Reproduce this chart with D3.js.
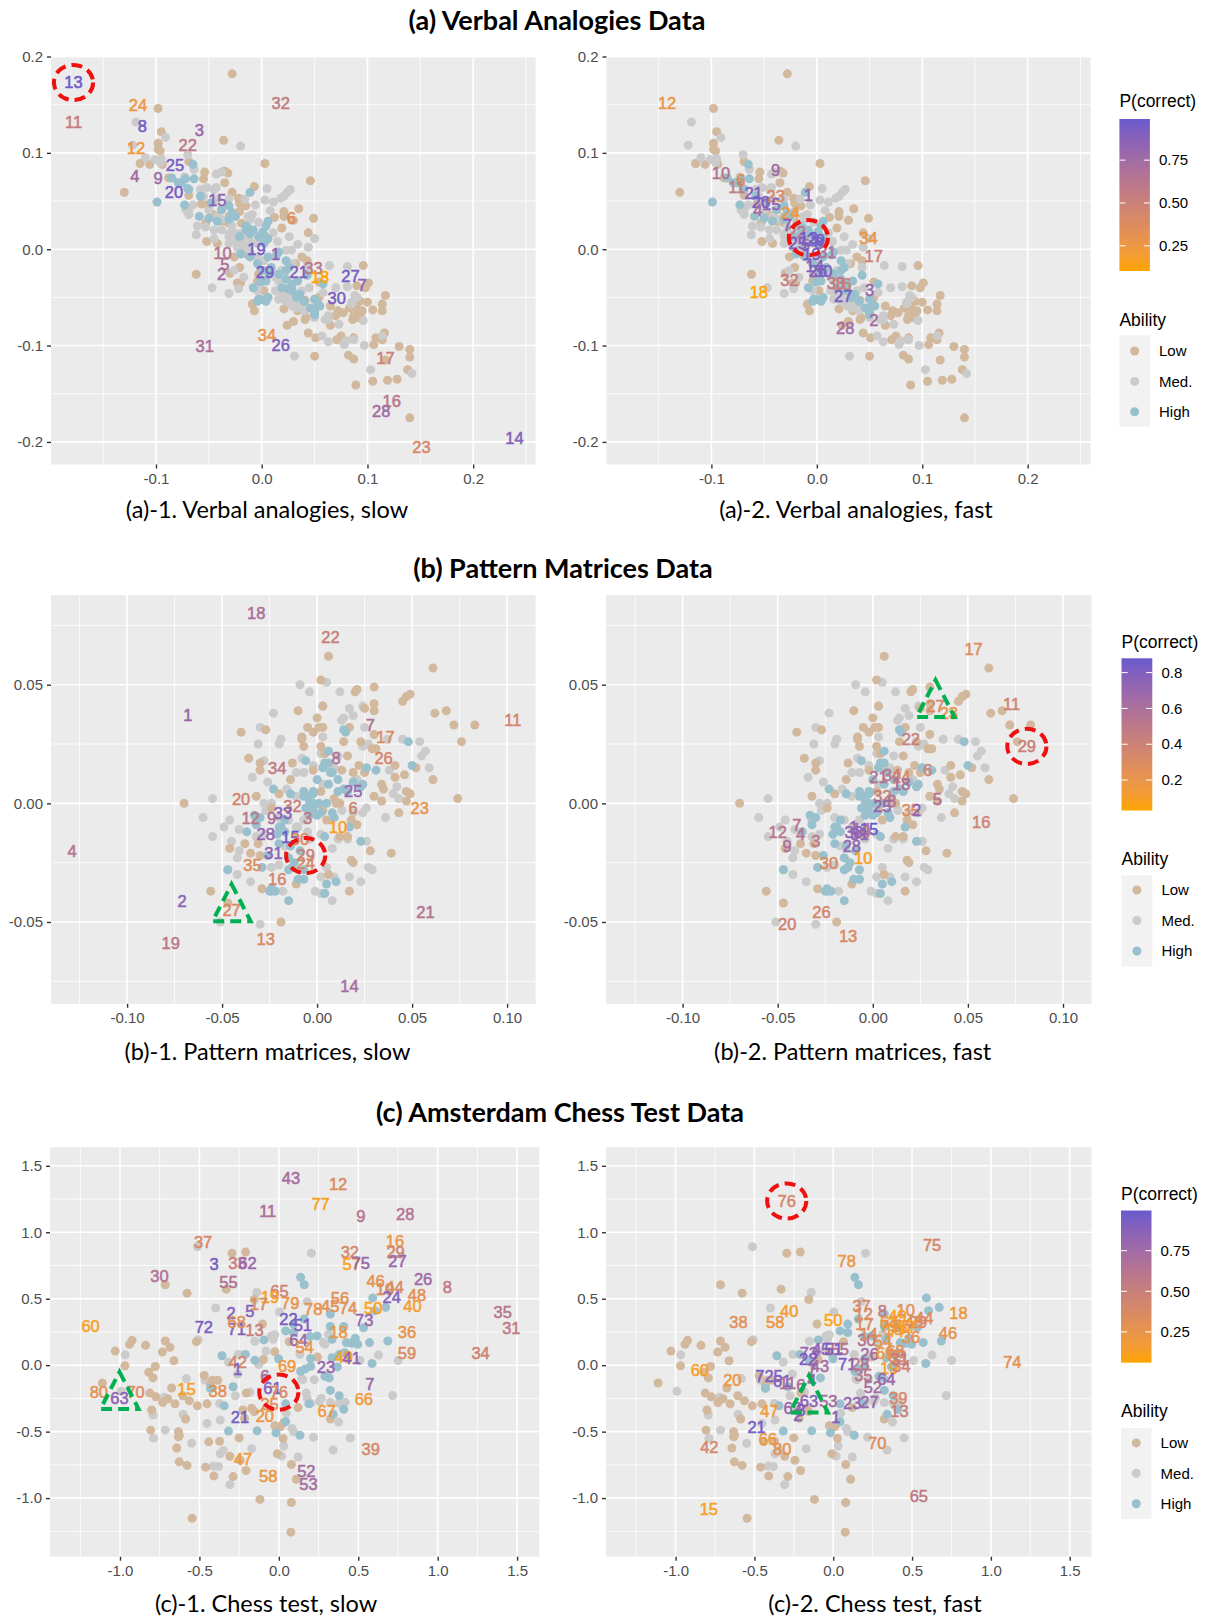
<!DOCTYPE html>
<html>
<head>
<meta charset="utf-8">
<script src="https://cdn.jsdelivr.net/npm/d3@7"></script>
<style>
  body { margin: 0; background: #fff; }
  text { font-family: "Liberation Sans", Arial, sans-serif; }
  .heading { font-family: Lato, sans-serif; fill: #000; text-anchor: middle; }
</style>
</head>
<body>
<svg id="chart" width="1205" height="1618"></svg>
<script>
// People (same cloud in both panels of a row), x = slow/fast residual, y = ability residual
var verbal_low = [[-.028,.182],[-.098,.146],[-.095,.122],[-.036,.113],[-.098,.110],[-.098,.104],[-.096,.102],[-.115,.089],[-.106,.088],[-.094,.088],[.003,.089],[-.130,.059],[-.088,.074],[-.069,.091],[-.054,.080],[-.055,.073],[-.035,.081],[-.032,.079],[-.035,.069],[-.028,.059],[-.007,.065],[.046,.071],[-.069,.056],[-.057,.047],[-.052,.046],[-.022,.053],[-.021,.048],[-.015,.045],[-.021,.039],[-.046,.036],[-.037,.029],[-.031,.027],[-.031,.034],[-.019,.027],[-.053,.027],[-.052,.008],[-.042,.006],[.012,.033],[.021,.039],[.021,.034],[.035,.042],[.03,.03],[.049,.032],[.019,.022],[.044,.017],[-.062,-.026],[-.026,-.008],[-.013,-.006],[-.021,-.019],[-.030,-.025],[-.023,-.035],[-.02,-.035],[-.003,-.026],[-.004,-.033],[.002,-.043],[-.009,-.057],[-.007,-.064],[.038,-.008],[.043,-.012],[.032,-.015],[.096,-.017],[.09,-.038],[.098,-.04],[.101,-.035],[.054,-.034],[.117,-.048],[.093,-.054],[.1,-.055],[.105,-.063],[.114,-.057],[.114,-.064],[.054,-.05],[.041,-.053],[.065,-.059],[.072,-.064],[.077,-.066],[.07,-.069],[.083,-.061],[.09,-.062],[.094,-.066],[.095,-.064],[.087,-.069],[.092,-.071],[.086,-.073],[.021,-.062],[.024,-.079],[.03,-.075],[.041,-.073],[.042,-.071],[.065,-.079],[.034,-.064],[.044,-.087],[.051,-.092],[.075,-.09],[.071,-.094],[.087,-.092],[.108,-.092],[.106,-.099],[.116,-.087],[.114,-.094],[.13,-.101],[.14,-.104],[.14,-.112],[.05,-.111],[.082,-.11],[.087,-.114],[.117,-.115],[.138,-.125],[.105,-.137],[.119,-.136],[.128,-.135],[.089,-.141],[.14,-.175]];
var verbal_med = [[-.119,.132],[-.122,.108],[-.091,.116],[-.02,.107],[-.11,.095],[-.101,.093],[-.095,.094],[-.096,.09],[-.07,.098],[-.064,.083],[-.073,.075],[-.043,.078],[-.038,.08],[-.052,.064],[-.043,.064],[-.055,.055],[-.065,.046],[-.072,.041],[-.069,.036],[-.061,.024],[-.062,.015],[-.053,.023],[-.045,.02],[-.045,.011],[.005,.063],[.027,.062],[.024,.059],[.003,.051],[.011,.049],[.018,.053],[.021,.055],[-.006,.046],[.008,.04],[-.009,.036],[-.013,.034],[-.016,.052],[-.003,.028],[.011,.017],[.015,.008],[.004,.009],[.026,.013],[.05,.011],[.034,.005],[.044,.002],[.028,-.001],[-.038,.02],[-.031,.016],[-.025,.009],[-.021,.002],[-.014,.001],[.064,-.017],[.081,-.018],[.07,-.04],[.081,-.039],[.045,-.04],[.058,-.045],[-.047,-.04],[-.031,-.046],[-.026,-.022],[-.017,-.029],[-.022,-.041],[-.004,-.043],[.016,-.033],[.013,-.043],[.023,-.047],[.038,-.043],[.016,-.052],[.023,-.054],[.04,-.057],[.029,-.059],[.05,-.064],[.05,-.071],[.063,-.069],[.063,-.073],[.073,-.078],[.088,-.048],[.085,-.055],[.096,-.074],[.031,-.111],[.057,-.09],[.063,-.096],[.078,-.099],[.08,-.095],[.087,-.094],[.097,-.1],[.114,-.09],[.103,-.125],[.142,-.129],[-.031,.006],[-.025,.016],[-.018,.013],[-.011,.008],[-.004,.006],[.029,-.015],[.023,-.001],[.009,-.022],[.019,-.022],[.043,-.019],[-.042,.034],[-.05,.041],[-.038,.041],[-.025,.034],[-.011,.031],[-.031,.052],[-.042,.052],[-.028,.024],[-.021,.016],[-.031,.013],[-.023,.002],[-.018,.006],[-.015,.013],[-.011,-.003],[-.004,-.008],[.002,-.012],[.013,-.029],[.023,-.04],[.028,-.05],[.033,-.055],[.04,-.064],[.043,-.061],[.033,-.061],[.026,-.05],[.019,-.048],[.06,-.073],[.085,-.057],[.09,-.05],[-.045,.062],[-.058,.062],[-.069,.041],[-.038,.031]];
var verbal_high = [[-.099,.049],[-.065,.088],[-.064,.073],[-.076,.069],[-.07,.063],[-.085,.074],[-.073,.046],[-.059,.034],[-.05,.032],[-.042,.029],[-.011,.059],[-.031,.045],[-.028,.038],[.006,.029],[.004,.024],[.001,.018],[-.013,.022],[-.011,.016],[.006,.011],[.002,.015],[-.02,-.005],[.016,-.003],[.006,-.008],[.023,-.012],[.026,-.019],[.006,-.024],[-.001,-.034],[.004,-.033],[.023,-.031],[.025,-.041],[.034,-.033],[.043,-.027],[.058,-.036],[-.008,-.04],[-.004,-.054],[.004,-.054],[.033,-.05],[.05,-.052],[.055,-.059],[.05,-.066],[-.003,-.052],[.029,-.043],[-.021,.013],[-.015,.02],[-.072,.073],[-.079,.069],[-.069,.062],[-.058,.055],[-.048,.048],[-.038,.041],[-.031,.031],[-.025,.034],[-.015,.024],[-.008,.02],[-.003,.013],[.002,.006],[-.011,-.008],[-.004,-.015],[.001,-.022],[.009,-.019],[.016,-.026],[.023,-.022],[.019,-.04],[.029,-.036],[.036,-.047],[.04,-.054],[.046,-.061],[.053,-.057],[-.001,-.052],[.006,-.05],[.014,-.006],[.05,-.068]];

var pattern_low = [[.006,.062],[.061,.057],[.002,.052],[.030,.049],[.020,.047],[.021,.048],[.049,.046],[.047,.045],[.045,.043],[.030,.042],[.030,.039],[.025,.040],[.003,.041],[-.010,.039],[0,.036],[.068,.039],[.062,.038],[.072,.033],[.083,.033],[.076,.026],[-.040,.030],[-.027,.031],[-.005,.032],[-.002,.030],[.001,.032],[.003,.032],[-.008,.028],[-.008,.027],[.017,.032],[.014,.026],[.030,.029],[.023,.026],[.002,.024],[-.007,.024],[.004,.021],[.016,.020],[.029,.023],[.031,.023],[-.036,.019],[-.030,.017],[-.030,.014],[-.013,.017],[-.002,.014],[-.014,.010],[.013,.014],[.019,.013],[.022,.016],[.025,.013],[.041,.016],[.041,.011],[.046,.012],[.061,.010],[.052,.015],[.034,.008],[.035,.006],[.002,.005],[.047,.005],[.049,.004],[-.070,0],[-.032,.003],[-.020,.004],[.030,.003],[.034,.001],[.074,.002],[.047,.001],[.043,-.004],[.009,.002],[.012,0],[.010,0],[-.024,-.002],[.003,-.003],[.021,-.009],[.018,-.007],[.005,-.007],[.012,-.014],[.016,-.014],[-.038,-.017],[-.046,-.019],[-.031,-.017],[-.035,-.021],[-.030,-.022],[.028,-.020],[.039,-.021],[.018,-.024],[.019,-.025],[.006,-.030],[-.011,-.034],[-.029,-.036],[.017,-.037],[-.056,-.037],[-.047,-.042],[-.019,-.050]];
var pattern_med = [[-.009,.050],[-.004,.047],[.005,.051],[.012,.047],[.003,.041],[.024,.041],[.017,.040],[.013,.035],[.014,.036],[.019,.037],[.025,.032],[-.023,.038],[-.030,.032],[-.019,.027],[-.020,.025],[-.031,.025],[.003,.028],[.037,.027],[.045,.027],[.054,.026],[.057,.022],[.055,.020],[.059,.015],[.024,.024],[.027,.025],[.002,.021],[-.008,.019],[-.028,.018],[-.002,.016],[-.011,.013],[-.007,.013],[-.034,.011],[-.026,.009],[-.016,.006],[.005,.016],[.038,.014],[.021,.010],[.042,.007],[.040,.004],[.043,.002],[.036,-.006],[-.055,.002],[-.060,-.006],[-.049,-.010],[-.046,-.007],[-.055,-.014],[-.041,-.011],[-.045,-.016],[-.041,-.020],[-.042,-.023],[-.028,0],[-.027,-.003],[-.024,0],[-.011,.003],[.026,-.002],[.024,-.004],[.008,-.019],[.011,-.015],[.016,-.015],[.026,-.016],[.027,-.027],[.029,-.028],[.005,-.027],[.002,-.031],[.009,-.031],[.017,-.031],[.023,-.033],[-.001,-.037],[.002,-.038],[.008,-.041],[-.018,-.037],[-.035,-.033],[-.047,-.028],[-.024,-.027],[-.020,-.026],[-.051,-.050],[-.030,-.051],[-.011,-.010],[-.007,-.007],[-.017,-.018],[-.015,-.023],[-.032,-.014],[-.042,-.030],[-.02,-.006],[-.01,-.01],[-.005,-.012],[-.015,-.007],[.002,-.013],[-.004,-.015],[.011,.020],[.009,.015],[.003,.008],[.013,-.003],[.019,-.004],[-.032,-.007],[-.028,-.013]];
var pattern_high = [[.014,.031],[.015,.030],[.048,.026],[.006,.022],[-.006,.018],[.004,.017],[.050,.016],[.026,.015],[.031,.014],[0,.010],[.008,.013],[.011,.010],[.006,.008],[.024,.008],[.019,.009],[-.023,.006],[-.014,.004],[-.007,.005],[-.002,.004],[-.005,.003],[.011,.005],[.014,.006],[-.002,0],[.001,0],[.008,-.004],[-.004,-.005],[0,-.005],[-.033,-.005],[-.030,-.006],[-.032,-.009],[-.037,-.012],[-.019,-.010],[-.017,-.012],[.004,-.014],[.017,-.010],[.023,-.016],[-.020,-.017],[-.026,-.022],[-.009,-.020],[-.015,-.023],[-.013,-.027],[-.015,-.028],[-.047,-.028],[-.007,-.032],[-.010,-.032],[.005,-.034],[.010,-.033],[.004,-.038],[-.024,-.037],[-.022,-.037],[-.015,-.041],[-.029,-.027],[-.007,.003],[-.004,.001],[-.002,-.002],[.002,-.004],[-.006,-.002],[.005,0],[.009,-.006],[-.017,-.007],[-.02,-.01],[-.021,-.013],[-.014,-.018],[-.012,-.025],[-.007,-.028],[-.024,-.036],[-.025,-.037],[.006,.017],[.003,.015],[.007,.013],[.023,.007],[.016,.005],[-.002,.005]];

var chess_low = [[.076,-1.256],[-.546,-1.152],[-.119,-1.01],[.079,-1.033],[.11,-.858],[-.409,-.833],[-.288,-.838],[-.207,-.792],[-.461,-.767],[.079,-.747],[-.578,-.754],[-.627,-.727],[-.643,-.623],[-.308,-.686],[-.243,-.716],[-.009,-.666],[-.441,-.577],[-.373,-.572],[-.25,-.547],[.027,-.552],[-.632,-.501],[-.627,-.527],[-.632,-.539],[-.807,-.489],[-.801,-.337],[-.587,-.405],[-.025,-.456],[.009,-.463],[.031,-.433],[-.227,-.337],[-.171,-.324],[-.155,-.349],[-.216,-.4],[.324,-.405],[.121,-.319],[-.452,-.291],[-.513,-.306],[-.654,-.291],[-.731,-.281],[-.774,-.238],[-.812,-.21],[-.699,-.253],[-.675,-.172],[-.605,-.23],[-.564,-.268],[-.47,-.078],[-.418,-.114],[-.385,-.114],[-.43,-.147],[-1.111,-.134],[-.819,-.053],[-.792,-.096],[-.778,-.01],[-.969,-.005],[-.661,.033],[-1.03,.106],[-.94,.157],[-.924,.187],[-.839,.149],[-.733,.099],[-.715,.182],[-.686,.134],[-.519,.177],[-.025,.101],[-.097,.043],[.065,.177],[.243,.061],[-.103,.309],[-.209,.851],[-.295,.843],[-.715,.605],[-.578,.542],[-.331,.572],[-.155,.494],[-.205,-.21]];
var chess_med = [[-.513,.891],[.205,.843],[-.139,.549],[-.398,.43],[.178,.478],[.004,.4],[-.508,.192],[-.025,.228],[-.047,.22],[-.036,.195],[-.151,.18],[-.081,.106],[.313,.233],[.279,.17],[.29,.157],[.133,.081],[-.256,.081],[-.317,.023],[-.126,.005],[.51,.035],[.627,.076],[.751,.035],[-.967,.078],[-.582,-.101],[-.463,-.114],[-.43,-.172],[-.259,-.066],[-.182,-.203],[-.274,-.23],[.144,-.104],[.151,-.109],[.223,-.109],[.173,-.21],[.178,-.248],[.2,-.286],[.268,-.248],[.256,-.273],[.324,-.281],[.38,-.286],[.418,-.278],[.717,-.228],[-.992,-.197],[-.722,-.241],[-.792,-.375],[-.603,-.37],[-.373,-.289],[-.452,-.438],[-.369,-.413],[-.715,-.489],[-.789,-.549],[-.549,-.587],[-.349,-.641],[-.369,-.666],[-.171,-.628],[-.412,-.759],[-.38,-.762],[-.308,-.899],[.031,-.608],[.018,-.684],[.121,-.691],[.047,-.362],[.083,-.476],[.092,-.501],[.218,-.542],[.376,-.428],[.45,-.547],[.342,-.638]];
var chess_high = [[.137,.661],[.16,.605],[.591,.506],[.672,.435],[.605,.41],[.324,.385],[.16,.347],[.324,.291],[.409,.291],[.043,.258],[.092,.309],[.092,.246],[.196,.215],[.241,.22],[.335,.195],[.425,.17],[.481,.203],[.459,.165],[.497,.157],[.571,.17],[.686,.182],[.533,.281],[-.094,.19],[-.211,.081],[-.358,.071],[-.151,.038],[-.002,.048],[.2,.051],[.2,-.008],[.335,.056],[.38,.081],[.414,.094],[.137,-.046],[.166,-.028],[.369,-.013],[.587,.013],[.29,-.084],[.317,-.096],[.324,-.19],[.38,-.23],[-.288,-.162],[-.43,-.175],[-.344,-.306],[.189,-.291],[.043,-.291],[.409,-.332],[.342,-.37],[.043,-.425],[-.317,-.496],[-.137,-.494],[-.018,-.509],[.133,-.527],[-.081,-.096]];

// Test items: [label, x, y, P(correct)]
var items_a1 = [[13,-.178,.173,.97],[24,-.117,.150,.25],[11,-.178,.132,.55],[8,-.113,.128,.95],[3,-.059,.124,.8],[22,-.07,.108,.6],[12,-.119,.105,.25],[25,-.082,.087,.93],[4,-.12,.076,.75],[9,-.098,.074,.75],[20,-.083,.059,.95],[15,-.042,.051,.85],[6,.028,.032,.35],[10,-.037,-.004,.65],[19,-.005,0,.95],[1,.013,-.005,.85],[5,-.035,-.015,.7],[2,-.038,-.026,.75],[29,.003,-.024,.95],[21,.035,-.024,.9],[33,.049,-.02,.6],[18,.055,-.029,.1],[27,.084,-.028,.95],[7,.095,-.037,.85],[30,.071,-.051,.92],[34,.005,-.089,.27],[26,.018,-.099,.9],[31,-.054,-.101,.7],[17,.117,-.113,.5],[16,.123,-.158,.6],[28,.113,-.168,.75],[23,.151,-.205,.42],[14,.239,-.196,.88],[32,.018,.152,.55]];
var items_a2 = [[12,-.142,.152,.25],[10,-.091,.079,.65],[6,-.072,.072,.35],[11,-.076,.065,.55],[9,-.039,.082,.75],[21,-.06,.058,.9],[20,-.053,.049,.95],[23,-.039,.055,.42],[4,-.056,.041,.75],[15,-.043,.047,.85],[5,-.011,.004,.7],[1,-.008,.056,.85],[24,-.025,.038,.25],[7,-.028,.025,.9],[22,-.019,.018,.6],[34,.049,.012,.27],[17,.054,-.007,.5],[13,-.008,.012,.97],[29,-.001,.01,.95],[25,-.018,.006,.93],[19,-.005,-.005,.95],[8,.002,.006,.95],[33,.018,-.035,.6],[31,.01,-.003,.7],[14,-.002,-.017,.88],[30,.006,-.023,.92],[26,.001,-.023,.9],[32,-.026,-.032,.55],[16,.024,-.036,.5],[18,-.055,-.044,.1],[27,.025,-.049,.95],[3,.05,-.042,.8],[2,.054,-.074,.75],[28,.027,-.082,.75]];
var items_b1 = [[18,-.032,.08,.6],[22,.007,.07,.42],[1,-.068,.037,.72],[7,.028,.033,.55],[11,.103,.035,.35],[17,.036,.028,.3],[26,.035,.019,.35],[8,.01,.019,.58],[34,-.021,.015,.48],[25,.019,.005,.7],[20,-.04,.002,.37],[32,-.013,-.001,.42],[6,.019,-.002,.38],[23,.054,-.002,.2],[33,-.018,-.004,.75],[12,-.035,-.006,.52],[9,-.024,-.006,.6],[3,-.005,-.006,.5],[10,.011,-.01,.08],[28,-.027,-.013,.72],[15,-.014,-.014,.88],[30,-.009,-.015,.3],[4,-.129,-.02,.55],[31,-.023,-.021,.75],[29,-.006,-.022,.42],[24,-.006,-.025,.33],[35,-.034,-.026,.28],[16,-.021,-.032,.35],[2,-.071,-.041,.75],[27,-.045,-.045,.32],[21,.057,-.046,.55],[19,-.077,-.059,.5],[13,-.027,-.057,.32],[14,.017,-.077,.62]];
var items_b2 = [[17,.053,.065,.28],[11,.073,.042,.38],[27,.033,.041,.32],[23,.04,.038,.2],[29,.081,.024,.42],[22,.02,.027,.42],[6,.029,.014,.38],[34,.01,.012,.5],[24,.015,.011,.33],[21,.003,.011,.55],[18,.015,.008,.6],[5,.034,.002,.55],[32,.005,.003,.42],[8,.01,.001,.58],[25,.005,-.001,.7],[35,.02,-.003,.28],[2,.023,-.003,.75],[16,.057,-.008,.38],[12,-.05,-.012,.52],[7,-.04,-.009,.55],[4,-.038,-.013,.55],[9,-.045,-.018,.6],[3,-.03,-.016,.5],[1,-.01,-.01,.72],[14,-.006,-.011,.62],[15,-.002,-.011,.88],[19,-.006,-.012,.5],[33,-.01,-.012,.75],[31,-.007,-.013,.75],[28,-.011,-.018,.72],[10,-.005,-.023,.08],[30,-.023,-.025,.3],[26,-.027,-.046,.35],[20,-.045,-.051,.38],[13,-.013,-.056,.32]];
var items_c1 = [[43,.076,1.405,.72],[12,.373,1.362,.35],[77,.263,1.213,.1],[11,-.07,1.159,.7],[9,.517,1.119,.6],[28,.796,1.137,.62],[37,-.477,.927,.38],[16,.731,.937,.22],[32,.447,.851,.4],[29,.735,.848,.42],[33,-.261,.765,.5],[62,-.198,.77,.8],[3,-.407,.759,.95],[57,.459,.757,.1],[75,.515,.767,.8],[27,.747,.787,.8],[30,-.751,.668,.65],[55,-.317,.625,.65],[46,.609,.63,.28],[26,.908,.648,.75],[10,.668,.575,.35],[44,.729,.587,.35],[8,1.061,.585,.55],[65,.004,.557,.45],[19,-.056,.509,.12],[17,-.126,.463,.35],[24,.711,.509,.88],[48,.87,.524,.3],[56,.385,.506,.3],[79,.072,.468,.25],[5,-.182,.408,.88],[2,-.301,.39,.9],[78,.216,.423,.25],[45,.324,.448,.3],[74,.436,.428,.3],[50,.594,.43,.08],[40,.841,.446,.15],[35,1.41,.397,.6],[22,.061,.349,.95],[51,.151,.301,.92],[73,.537,.339,.8],[72,-.472,.284,.93],[71,-.265,.271,.92],[68,-.265,.322,.3],[13,-.153,.266,.5],[60,-1.185,.296,.12],[31,1.464,.276,.55],[18,.376,.248,.22],[36,.807,.248,.25],[64,.124,.187,.8],[54,.162,.139,.25],[59,.807,.089,.35],[34,1.27,.089,.45],[49,.409,.058,.1],[41,.459,.051,.85],[69,.052,-.003,.2],[23,.297,-.013,.82],[42,-.259,.023,.4],[1,-.259,-.028,.9],[6,-.088,-.084,.7],[7,.573,-.142,.8],[61,-.04,-.17,.9],[76,0,-.203,.38],[15,-.582,-.177,.12],[38,-.385,-.192,.3],[80,-1.133,-.203,.28],[70,-.902,-.203,.33],[63,-1.003,-.246,.85],[66,.535,-.253,.2],[25,-.058,-.291,.3],[67,.301,-.344,.2],[20,-.088,-.382,.22],[21,-.245,-.39,.95],[39,.578,-.628,.4],[47,-.225,-.709,.18],[58,-.067,-.835,.22],[52,.173,-.797,.72],[53,.187,-.894,.72]];
var items_c2 = [[76,-.295,1.235,.4],[75,.627,.904,.42],[78,.086,.785,.22],[37,.18,.448,.38],[12,.193,.385,.35],[8,.311,.41,.55],[10,.46,.418,.3],[49,.407,.372,.1],[18,.794,.392,.2],[44,.577,.354,.35],[40,-.279,.405,.15],[38,-.601,.327,.3],[58,-.368,.322,.22],[50,0,.342,.08],[46,.728,.241,.28],[17,.198,.309,.35],[30,.211,.19,.65],[36,.493,.208,.25],[45,-.076,.124,.85],[55,.042,.119,.65],[73,-.154,.094,.8],[22,-.159,.048,.95],[43,-.084,-.008,.72],[71,.089,.005,.92],[28,.172,.005,.62],[26,.23,.081,.75],[60,-.846,-.038,.12],[74,1.136,.025,.3],[19,.355,-.02,.12],[34,.433,-.008,.45],[59,.407,.068,.35],[69,.329,.094,.2],[35,.191,-.071,.6],[64,.337,-.101,.8],[72,-.436,-.084,.93],[5,-.35,-.084,.88],[61,-.324,-.122,.9],[11,-.29,-.134,.7],[6,-.206,-.147,.7],[20,-.64,-.109,.22],[4,-.136,-.109,.8],[7,-.136,-.033,.8],[29,.538,.322,.42],[52,.251,-.165,.72],[63,-.154,-.273,.85],[53,-.031,-.268,.72],[23,.12,-.286,.82],[27,.23,-.281,.8],[39,.413,-.251,.4],[13,.42,-.344,.5],[62,-.258,-.324,.8],[3,-.206,-.337,.95],[2,-.225,-.375,.9],[47,-.405,-.342,.18],[1,.016,-.387,.9],[21,-.486,-.463,.95],[66,-.415,-.557,.2],[70,.279,-.585,.33],[42,-.786,-.615,.4],[80,-.324,-.63,.28],[65,.543,-.982,.55],[15,-.789,-1.084,.12],[16,.381,.271,.22],[56,.433,.296,.3],[48,.512,.322,.3],[77,.407,.258,.1],[57,.473,.284,.1],[54,.316,.182,.25],[68,.394,.106,.3],[31,.42,.043,.55],[51,.003,.119,.92],[67,.355,.322,.2],[79,.355,.296,.25],[14,.225,.233,.35]];

var ticks_a = [-.2,-.1,0,.1,.2];
var ticks_b = [-.1,-.05,0,.05,.1];
var ticks_c = [-1,-.5,0,.5,1,1.5];
var ability_names = ["Low", "Med.", "High"];
var ability_colors = ["#d2b89c", "#cbcbcb", "#99c0cd"];

var svg = d3.select("#chart");
var defs = svg.append("defs");

function headingText(str, x, y, size, weight) {
  svg.append("text").attr("class", "heading")
     .attr("x", x).attr("y", y).attr("dy", "0.35em")
     .style("font-size", size + "px").style("font-weight", weight)
     .text(str);
}

function dashedStyle(sel, color) {
  sel.attr("fill", "none").attr("stroke", color).attr("stroke-width", 4).attr("stroke-dasharray", "11,6");
}

function midpoints(vals, lo, hi) {
  var step = vals[1] - vals[0];
  var out = [];
  for (var v = vals[0] - step / 2; v <= hi; v += step) {
    if (v >= lo) out.push(v);
  }
  return out;
}

function drawPanel(p) {
  var g = svg.append("g");

  var x = d3.scaleLinear().domain(p.x_cal).range(p.x_px);
  var y = d3.scaleLinear().domain(p.y_cal).range(p.y_px);

  g.append("rect")
   .attr("x", p.box[0]).attr("y", p.box[2])
   .attr("width", p.box[1] - p.box[0]).attr("height", p.box[3] - p.box[2])
   .attr("fill", "#ebebeb");

  var x_lo = x.invert(p.box[0]), x_hi = x.invert(p.box[1]);
  var y_lo = y.invert(p.box[3]), y_hi = y.invert(p.box[2]);
  var x_major = p.x_ticks.filter(function (d) { return d >= x_lo && d <= x_hi; });
  var y_major = p.y_ticks.filter(function (d) { return d >= y_lo && d <= y_hi; });

  // minor lines first so the major ones sit on top
  midpoints(p.x_ticks, x_lo, x_hi).forEach(function (d) {
    g.append("line").attr("x1", x(d)).attr("x2", x(d)).attr("y1", p.box[2]).attr("y2", p.box[3])
     .attr("stroke", "#fff").attr("stroke-width", 0.8);
  });
  midpoints(p.y_ticks, y_lo, y_hi).forEach(function (d) {
    g.append("line").attr("y1", y(d)).attr("y2", y(d)).attr("x1", p.box[0]).attr("x2", p.box[1])
     .attr("stroke", "#fff").attr("stroke-width", 0.8);
  });
  x_major.forEach(function (d) {
    g.append("line").attr("x1", x(d)).attr("x2", x(d)).attr("y1", p.box[2]).attr("y2", p.box[3])
     .attr("stroke", "#fff").attr("stroke-width", 1.6);
  });
  y_major.forEach(function (d) {
    g.append("line").attr("y1", y(d)).attr("y2", y(d)).attr("x1", p.box[0]).attr("x2", p.box[1])
     .attr("stroke", "#fff").attr("stroke-width", 1.6);
  });

  var x_axis = d3.axisBottom(x).tickValues(p.x_ticks).tickSize(4).tickPadding(5)
                 .tickFormat(function (d) { return d3.format(p.fmt)(d).replace("−", "-"); });
  var y_axis = d3.axisLeft(y).tickValues(p.y_ticks).tickSize(4).tickPadding(4)
                 .tickFormat(function (d) { return d3.format(p.fmt)(d).replace("−", "-"); });

  [g.append("g").attr("transform", "translate(0," + p.box[3] + ")").call(x_axis),
   g.append("g").attr("transform", "translate(" + p.box[0] + ",0)").call(y_axis)].forEach(function (a) {
    a.select(".domain").remove();
    a.selectAll(".tick line").attr("stroke", "#333").attr("stroke-width", 1.4);
    a.selectAll(".tick text").attr("fill", "#4d4d4d").style("font-size", "15px")
     .style("font-family", "'Liberation Sans', Arial, sans-serif");
  });

  // ggplot drew these in person order, so the groups are layered loosely
  p.groups.forEach(function (grp) {
    g.append("g").selectAll("circle").data(grp.data).enter().append("circle")
     .attr("cx", function (d) { return x(d[0]); })
     .attr("cy", function (d) { return y(d[1]); })
     .attr("r", 4.5)
     .attr("fill", ability_colors[grp.idx]);
  });

  var color = d3.scaleLinear().domain(p.p_domain).range(["orange", "slateblue"]).interpolate(d3.interpolateLab);

  g.append("g").selectAll("text").data(p.items).enter().append("text")
   .attr("x", function (d) { return x(d[1]); })
   .attr("y", function (d) { return y(d[2]); })
   .attr("dy", "0.36em")
   .attr("text-anchor", "middle")
   .style("font-size", "16.5px")
   .attr("fill", function (d) { return color(d[3]); })
   .attr("stroke", function (d) { return color(d[3]); })
   .attr("stroke-width", 0.55)
   .text(function (d) { return d[0]; });

  var ringed = p.items.filter(function (d) { return d[0] === p.ring; })[0];
  if (ringed) {
    g.append("ellipse").attr("cx", x(ringed[1])).attr("cy", y(ringed[2]))
     .attr("rx", 19.6).attr("ry", 17.6).call(dashedStyle, "#f01010");
  }
  var marked = p.items.filter(function (d) { return d[0] === p.tri; })[0];
  if (marked) {
    var cx = x(marked[1]), cy = y(marked[2]);
    g.append("path")
     .attr("d", "M" + cx + "," + (cy - 26) + "L" + (cx + 19) + "," + (cy + 11) + "L" + (cx - 19) + "," + (cy + 11) + "Z")
     .call(dashedStyle, "#00b050");
  }

  headingText(p.caption, p.cap_x, p.cap_y, 23.5, 400);
}

function drawLegend(l) {
  var g = svg.append("g");
  var scale = d3.scaleLinear().domain(l.domain).range([l.bar[3], l.bar[2]]);
  var color = d3.scaleLinear().domain(l.domain).range(["orange", "slateblue"]).interpolate(d3.interpolateLab);

  var grad = defs.append("linearGradient").attr("id", l.id)
                 .attr("x1", 0).attr("x2", 0).attr("y1", 1).attr("y2", 0);
  d3.range(11).forEach(function (i) {
    var t = i / 10;
    grad.append("stop").attr("offset", t)
        .attr("stop-color", color(l.domain[0] + t * (l.domain[1] - l.domain[0])));
  });

  var bar_w = l.bar[1] - l.bar[0];

  g.append("text").attr("x", l.bar[0]).attr("y", l.title_y).attr("dy", "0.35em")
   .style("font-size", "17.5px").attr("fill", "#000").text("P(correct)");

  g.append("rect").attr("x", l.bar[0]).attr("y", l.bar[2])
   .attr("width", bar_w).attr("height", l.bar[3] - l.bar[2])
   .attr("fill", "url(#" + l.id + ")");

  l.ticks.forEach(function (t) {
    g.append("line").attr("x1", l.bar[0]).attr("x2", l.bar[0] + bar_w / 5)
     .attr("y1", scale(t)).attr("y2", scale(t)).attr("stroke", "#fff").attr("stroke-width", 1);
    g.append("line").attr("x1", l.bar[1] - bar_w / 5).attr("x2", l.bar[1])
     .attr("y1", scale(t)).attr("y2", scale(t)).attr("stroke", "#fff").attr("stroke-width", 1);
    g.append("text").attr("x", l.label_x).attr("y", scale(t)).attr("dy", "0.35em")
     .style("font-size", "15px").attr("fill", "#000").text(d3.format(l.fmt)(t));
  });

  g.append("text").attr("x", l.bar[0]).attr("y", l.ability_y).attr("dy", "0.35em")
   .style("font-size", "17.5px").attr("fill", "#000").text("Ability");

  var key_y = d3.scalePoint().domain(ability_names).range(l.key_px);

  g.append("rect").attr("x", l.bar[0]).attr("y", l.key_box[0])
   .attr("width", bar_w).attr("height", l.key_box[1] - l.key_box[0])
   .attr("fill", "#f2f2f2");

  ability_names.forEach(function (name, i) {
    g.append("circle").attr("cx", (l.bar[0] + l.bar[1]) / 2).attr("cy", key_y(name))
     .attr("r", 4.5).attr("fill", ability_colors[i]);
    g.append("text").attr("x", l.label_x).attr("y", key_y(name)).attr("dy", "0.35em")
     .style("font-size", "15px").attr("fill", "#000").text(name);
  });
}

headingText("(a) Verbal Analogies Data", 557, 21, 27, 700);
headingText("(b) Pattern Matrices Data", 563, 569, 27, 700);
headingText("(c) Amsterdam Chess Test Data", 560, 1113, 27, 700);

var groups_a = [{idx: 0, data: verbal_low}, {idx: 1, data: verbal_med}, {idx: 2, data: verbal_high}];
var groups_b = [{idx: 1, data: pattern_med}, {idx: 0, data: pattern_low}, {idx: 2, data: pattern_high}];
var groups_c = [{idx: 1, data: chess_med}, {idx: 0, data: chess_low}, {idx: 2, data: chess_high}];

var a_y = {y_cal: [-.2, .2], y_px: [441.9, 56.5], y_ticks: ticks_a, fmt: ".1f", groups: groups_a, p_domain: [.103, .99]};
var b_y = {y_cal: [-.05, .05], y_px: [922, 684.7], y_ticks: [-.05, 0, .05], fmt: ".2f", groups: groups_b, p_domain: [.03, .88]};
var c_y = {y_cal: [-1, 1.5], y_px: [1498.1, 1165.8], y_ticks: [-1, -.5, 0, .5, 1, 1.5], fmt: ".1f", groups: groups_c, p_domain: [.06, .9975]};

drawPanel(Object.assign({}, a_y, {box: [51, 535.7, 57.5, 464.5], x_cal: [-.1, .2], x_px: [156, 473.2], x_ticks: [-.1, 0, .1, .2], items: items_a1, ring: 13, caption: "(a)-1. Verbal analogies, slow", cap_x: 267, cap_y: 510}));
drawPanel(Object.assign({}, a_y, {box: [606.5, 1090.6, 57.5, 464.5], x_cal: [-.1, .2], x_px: [711.4, 1027.7], x_ticks: [-.1, 0, .1, .2], items: items_a2, ring: 13, caption: "(a)-2. Verbal analogies, fast", cap_x: 856, cap_y: 510}));
drawPanel(Object.assign({}, b_y, {box: [51, 535.7, 595.1, 1003.8], x_cal: [-.1, .1], x_px: [127.1, 507.1], x_ticks: ticks_b, items: items_b1, ring: 29, tri: 27, caption: "(b)-1. Pattern matrices, slow", cap_x: 267.4, cap_y: 1052}));
drawPanel(Object.assign({}, b_y, {box: [606, 1091.5, 595.1, 1003.8], x_cal: [-.1, .1], x_px: [682.6, 1063], x_ticks: ticks_b, items: items_b2, ring: 29, tri: 27, caption: "(b)-2. Pattern matrices, fast", cap_x: 852.7, cap_y: 1052}));
drawPanel(Object.assign({}, c_y, {box: [50, 539.3, 1147.2, 1556.7], x_cal: [-1, 1.5], x_px: [120, 517.1], x_ticks: ticks_c, items: items_c1, ring: 76, tri: 63, caption: "(c)-1. Chess test, slow", cap_x: 266, cap_y: 1603.5}));
drawPanel(Object.assign({}, c_y, {box: [606, 1091.5, 1147.2, 1556.7], x_cal: [-1, 1.5], x_px: [675.6, 1069.7], x_ticks: ticks_c, items: items_c2, ring: 76, tri: 63, caption: "(c)-2. Chess test, fast", cap_x: 875, cap_y: 1603.5}));

drawLegend({id: "bar_a", bar: [1119.4, 1149.9, 119, 271], domain: [.103, .99], ticks: [.25, .5, .75], fmt: ".2f", label_x: 1159, title_y: 101, ability_y: 319.5, key_box: [335.4, 426.6], key_px: [351, 411.8]});
drawLegend({id: "bar_b", bar: [1121.5, 1152.3, 658.3, 810.5], domain: [.03, .88], ticks: [.2, .4, .6, .8], fmt: ".1f", label_x: 1161.4, title_y: 641.4, ability_y: 858.8, key_box: [875.4, 966.6], key_px: [890, 951]});
drawLegend({id: "bar_c", bar: [1121, 1151.5, 1210.5, 1362.7], domain: [.06, .9975], ticks: [.25, .5, .75], fmt: ".2f", label_x: 1160.6, title_y: 1193.4, ability_y: 1410.9, key_box: [1428, 1519], key_px: [1442.9, 1503.8]});
</script>
</body>
</html>
